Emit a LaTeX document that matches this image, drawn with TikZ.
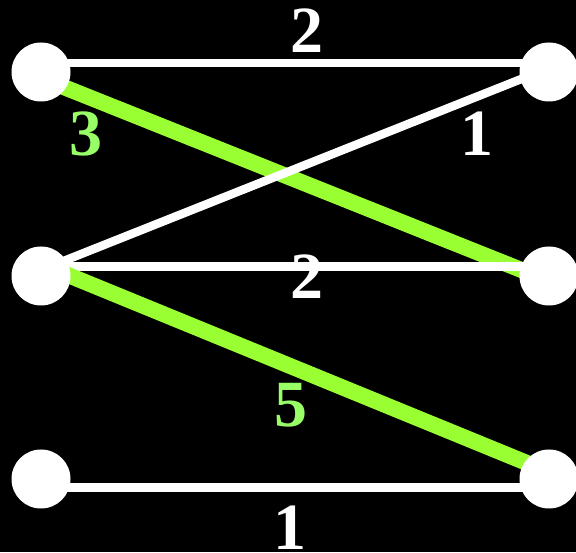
\documentclass[tikz,border=0pt]{standalone}
\usepackage{fontspec}
\setmainfont{Liberation Serif}
\pgfdeclarelayer{edgelayer}
\pgfsetlayers{edgelayer,main}
\definecolor{linegreen}{HTML}{99FF33}
\definecolor{labelgreen}{HTML}{99FF66}
\tikzset{
  vertex/.style={circle, fill=white, minimum size=59pt, inner sep=0pt},
  plain/.style={white, line width=8.5pt},
  picked/.style={linegreen, line width=16pt},
  wlabel/.style={font=\fontsize{66}{66}\selectfont\bfseries, text=white, inner sep=0pt},
  glabel/.style={wlabel, text=labelgreen},
}
\begin{document}
\begin{tikzpicture}[x=1pt, y=1pt]
\useasboundingbox (0,0) rectangle (576,552);
% vertices
\node[vertex] (l1) at (41,480) {};
\node[vertex] (l2) at (41,276) {};
\node[vertex] (l3) at (41,73) {};
\node[vertex] (r1) at (549,480) {};
\node[vertex] (r2) at (549,276) {};
\node[vertex] (r3) at (549,73) {};
% edges, behind the vertices
\begin{pgfonlayer}{edgelayer}
\fill[black] (0,0) rectangle (576,552);
\draw[plain] ([yshift=9]l1.center) -- ([yshift=9]r1.center);
\draw[picked] ([yshift=-6]l1.center) -- ([yshift=-5]r2.center);
\draw[plain] ([yshift=6]l2.center) -- ([yshift=4]r1.center);
\draw[plain] ([yshift=9.5]l2.center) -- ([yshift=9.5]r2.center);
\draw[picked] ([yshift=12]l2.center) -- ([yshift=7]r3.center);
\draw[plain] ([yshift=-8.5]l3.center) -- ([yshift=-8.5]r3.center);
\end{pgfonlayer}
% weights
\node[wlabel] (w12) at (307,521.5) {2};
\node[glabel] (w13) at (86,418) {3};
\node[wlabel] (w21) at (477,418) {1};
\node[wlabel] (w22) at (307,275.5) {2};
\node[glabel] (w23) at (290.5,147) {5};
\node[wlabel] (w33) at (290,24.5) {1};
\end{tikzpicture}
\end{document}
